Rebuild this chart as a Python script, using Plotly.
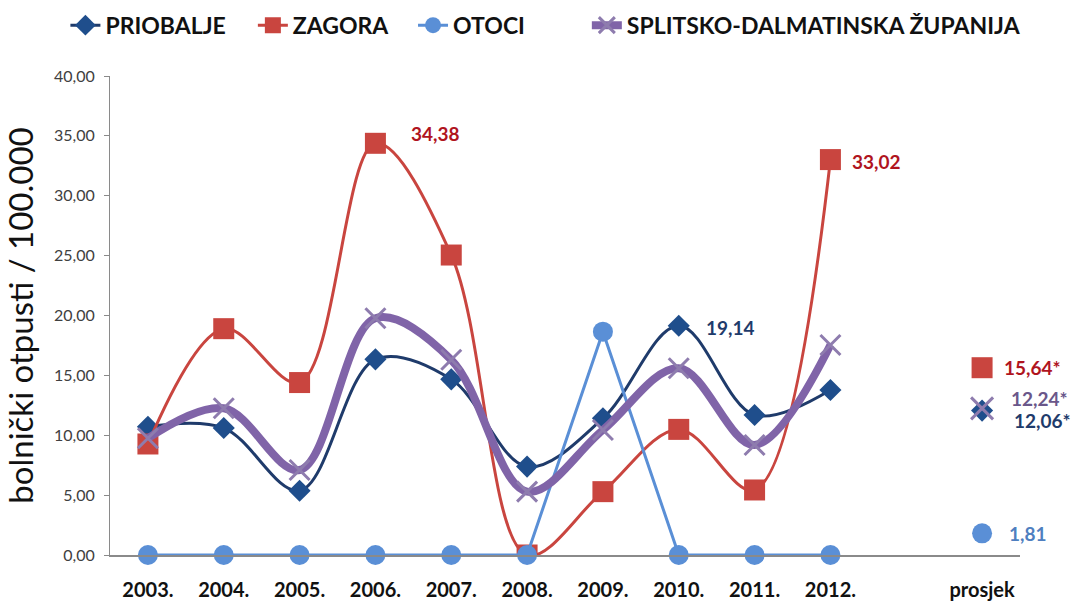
import plotly.graph_objects as go

years = ["2003.", "2004.", "2005.", "2006.", "2007.", "2008.", "2009.", "2010.", "2011.", "2012."]
avg_label = "prosjek"

priobalje = [10.70, 10.60, 5.37, 16.34, 14.67, 7.38, 11.41, 19.14, 11.69, 13.78]
zagora = [9.27, 18.90, 14.40, 34.38, 25.05, 0.00, 5.29, 10.49, 5.43, 33.02]
otoci = [0.00, 0.00, 0.00, 0.00, 0.00, 0.00, 18.65, 0.00, 0.00, 0.00]
splitsko = [9.75, 12.25, 7.10, 19.77, 16.30, 5.29, 10.44, 15.59, 9.19, 17.54]

avg_priobalje = 12.06
avg_zagora = 15.64
avg_otoci = 1.81
avg_splitsko = 12.24

c_prio_line = "#1F3B6B"
c_prio_mark = "#1F4E8C"
c_zag = "#C9453F"
c_zag_lbl = "#B0141E"
c_oto = "#5A8FD6"
c_oto_lbl = "#4F7FC0"
c_spl = "#8064A8"
c_spl_mark = "#8E7CAE"
c_spl_lbl = "#6A578A"

FONT = "Lato"
xi = list(range(len(years)))
x_avg = len(years) + 1

fig = go.Figure()

fig.add_trace(go.Scatter(
    x=xi, y=priobalje, name="PRIOBALJE", mode="lines+markers", legend="legend",
    line=dict(color=c_prio_line, width=3, shape="spline", smoothing=1.0),
    marker=dict(symbol="diamond", size=17, color=c_prio_mark),
    cliponaxis=True))
fig.add_trace(go.Scatter(
    x=xi, y=zagora, name="ZAGORA", mode="lines+markers", legend="legend2",
    line=dict(color=c_zag, width=3, shape="spline", smoothing=1.0),
    marker=dict(symbol="square", size=21, color=c_zag),
    cliponaxis=True))
fig.add_trace(go.Scatter(
    x=xi, y=otoci, name="OTOCI", mode="lines+markers", legend="legend3",
    line=dict(color=c_oto, width=3),
    marker=dict(symbol="circle", size=20, color=c_oto),
    cliponaxis=False))
fig.add_trace(go.Scatter(
    x=xi, y=splitsko, name="SPLITSKO-DALMATINSKA ŽUPANIJA", mode="lines+markers",
    legend="legend4",
    line=dict(color=c_spl, width=8, shape="spline", smoothing=1.0),
    marker=dict(symbol="x-thin", size=20, color=c_spl_mark,
                line=dict(width=3, color=c_spl_mark)),
    cliponaxis=True))

# averages ("prosjek")
for val, sym, size, col, extra in [
    (avg_zagora, "square", 21, c_zag, {}),
    (avg_otoci, "circle", 20, c_oto, {}),
    (avg_priobalje, "diamond", 17, c_prio_mark, {}),
    (avg_splitsko, "x-thin", 22, c_spl_mark, dict(line=dict(width=3, color=c_spl_mark))),
]:
    fig.add_trace(go.Scatter(x=[x_avg], y=[val], mode="markers", showlegend=False,
                             marker=dict(symbol=sym, size=size, color=col, **extra),
                             cliponaxis=False))

def fmt(v, star=False):
    s = f"{v:.2f}".replace(".", ",")
    return s + ("*" if star else "")

ann = []
# data labels
ann.append(dict(x=3, y=zagora[3], text=fmt(zagora[3]), xshift=34, yshift=10,
                font=dict(color=c_zag_lbl)))
ann.append(dict(x=9, y=zagora[9], text=fmt(zagora[9]), xshift=20, yshift=-2,
                font=dict(color=c_zag_lbl)))
ann.append(dict(x=7, y=priobalje[7], text=fmt(priobalje[7]), xshift=25, yshift=-2,
                font=dict(color=c_prio_line)))
# average labels
ann.append(dict(x=x_avg, y=avg_zagora, text=fmt(avg_zagora, True), xshift=20, yshift=0,
                font=dict(color=c_zag_lbl)))
ann.append(dict(x=x_avg, y=avg_splitsko, text=fmt(avg_splitsko, True), xshift=27, yshift=10,
                font=dict(color=c_spl_lbl)))
ann.append(dict(x=x_avg, y=avg_priobalje, text=fmt(avg_priobalje, True), xshift=30, yshift=-10,
                font=dict(color=c_prio_line)))
ann.append(dict(x=x_avg, y=avg_otoci, text=fmt(avg_otoci), xshift=25, yshift=0,
                font=dict(color=c_oto_lbl)))
for a in ann:
    a.update(xref="x", yref="y", xanchor="left", yanchor="middle", showarrow=False)
    a["font"].update(family=FONT, size=19, weight="bold")

leg_common = dict(orientation="h", y=1.106, xanchor="left", yanchor="middle",
                  font=dict(family=FONT, size=23, color="#111111", weight="bold"),
                  itemwidth=30, bgcolor="rgba(0,0,0,0)")

fig.update_layout(
    width=1082, height=603,
    margin=dict(l=110, r=62, t=76, b=48, autoexpand=False),
    paper_bgcolor="white", plot_bgcolor="white",
    separators=",.",
    font=dict(family=FONT),
    annotations=ann,
    legend=dict(x=-0.049, **leg_common),
    legend2=dict(x=0.157, **leg_common),
    legend3=dict(x=0.333, **leg_common),
    legend4=dict(x=0.524, **leg_common),
    xaxis=dict(
        range=[-0.5, len(years) + 1.5],
        tickmode="array", tickvals=xi + [x_avg], ticktext=years + [avg_label],
        showgrid=False, zeroline=False, showline=True, linecolor="#8A8A8A", linewidth=1.5,
        ticks="", ticklabelstandoff=16,
        tickfont=dict(family=FONT, size=20, color="#111111", weight="bold"),
    ),
    yaxis=dict(
        range=[0, 40], dtick=5, tickformat=".2f",
        showgrid=False, zeroline=False, showline=True, linecolor="#8A8A8A", linewidth=1,
        ticks="outside", ticklen=5, tickcolor="#8A8A8A", ticklabelstandoff=6,
        tickfont=dict(family=FONT, size=16, color="#404040"),
        title=dict(text="bolnički otpusti / 100.000", standoff=10,
                   font=dict(family=FONT, size=33, color="#111111")),
    ),
)

fig.write_html("out.html", post_script="document.body.style.margin='0';",
               config={"displayModeBar": False})
